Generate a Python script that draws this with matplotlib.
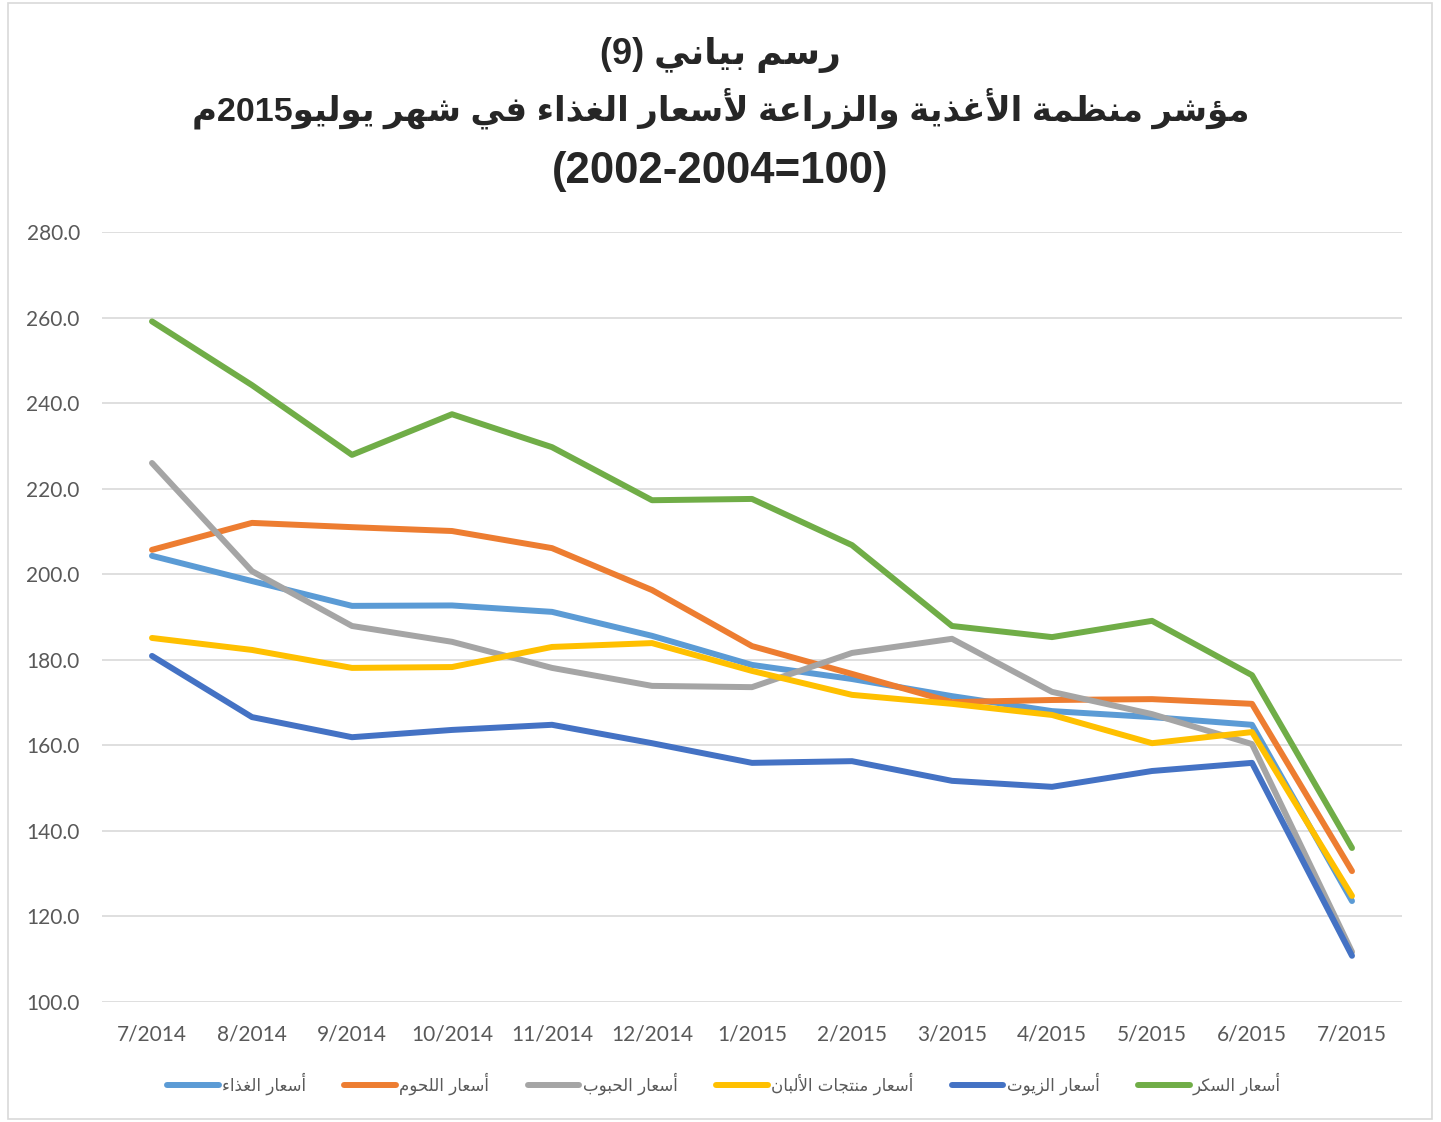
import matplotlib
matplotlib.use("Agg")
import matplotlib.pyplot as plt
from matplotlib.patches import Rectangle

# data
months = ["7/2014", "8/2014", "9/2014", "10/2014", "11/2014", "12/2014",
          "1/2015", "2/2015", "3/2015", "4/2015", "5/2015", "6/2015", "7/2015"]
food = [204.3, 198.4, 192.6, 192.7, 191.2, 185.6, 178.8, 175.5, 171.5, 168.0, 166.6, 164.8, 123.6]
meat = [205.7, 212.0, 211.0, 210.1, 206.1, 196.3, 183.2, 176.7, 170.1, 170.6, 170.8, 169.7, 130.6]
cereals = [226.0, 200.7, 187.9, 184.2, 178.1, 173.9, 173.6, 181.6, 184.9, 172.5, 167.3, 160.3, 111.7]
dairy = [185.1, 182.3, 178.1, 178.3, 183.0, 183.9, 177.4, 171.8, 169.7, 167.1, 160.5, 163.1, 124.8]
oils = [180.9, 166.6, 161.9, 163.6, 164.8, 160.5, 155.9, 156.3, 151.7, 150.3, 154.0, 155.9, 110.8]
sugar = [259.1, 244.2, 227.9, 237.4, 229.7, 217.3, 217.6, 206.8, 187.9, 185.3, 189.1, 176.4, 136.0]

series_names = ["أسعار الغذاء", "أسعار اللحوم", "أسعار الحبوب",
                "أسعار منتجات الألبان", "أسعار الزيوت", "أسعار السكر"]
colors = ["#5B9BD5", "#ED7D31", "#A5A5A5", "#FFC000", "#4472C4", "#70AD47"]

title1 = "رسم بياني (9)"
title2 = "مؤشر منظمة الأغذية والزراعة لأسعار الغذاء في شهر يوليو2015م"
title3 = "(2002-2004=100)"

# --- tiny arabic shaper (matplotlib draws no joined forms by itself) ---
DUAL = {'ئ': 0xFE89, 'ب': 0xFE8F, 'ت': 0xFE95, 'ث': 0xFE99, 'ج': 0xFE9D, 'ح': 0xFEA1,
        'خ': 0xFEA5, 'س': 0xFEB1, 'ش': 0xFEB5, 'ص': 0xFEB9, 'ض': 0xFEBD, 'ط': 0xFEC1,
        'ظ': 0xFEC5, 'ع': 0xFEC9, 'غ': 0xFECD, 'ف': 0xFED1, 'ق': 0xFED5, 'ك': 0xFED9,
        'ل': 0xFEDD, 'م': 0xFEE1, 'ن': 0xFEE5, 'ه': 0xFEE9, 'ي': 0xFEF1}
RIGHT = {'آ': 0xFE81, 'أ': 0xFE83, 'ؤ': 0xFE85, 'إ': 0xFE87, 'ا': 0xFE8D, 'ة': 0xFE93,
         'د': 0xFEA9, 'ذ': 0xFEAB, 'ر': 0xFEAD, 'ز': 0xFEAF, 'و': 0xFEED, 'ى': 0xFEEF}
LAM_ALEF = {'آ': 0xFEF5, 'أ': 0xFEF7, 'إ': 0xFEF9, 'ا': 0xFEFB}


def ar(text):
    units = []  # (base code or char, joining type)
    i = 0
    while i < len(text):
        c = text[i]
        if c == 'ل' and i + 1 < len(text) and text[i + 1] in LAM_ALEF:
            units.append((LAM_ALEF[text[i + 1]], 'R'))
            i += 2
            continue
        if c in DUAL:
            units.append((DUAL[c], 'D'))
        elif c in RIGHT:
            units.append((RIGHT[c], 'R'))
        elif c == 'ء':
            units.append((0xFE80, 'U'))
        else:
            units.append((c, 'X'))
        i += 1
    out = []
    for k, (code, jt) in enumerate(units):
        if jt == 'X':
            out.append(code)
            continue
        prev_ok = k > 0 and units[k - 1][1] == 'D' and jt in 'DR'
        next_ok = jt == 'D' and k + 1 < len(units) and units[k + 1][1] in 'DR'
        if prev_ok and next_ok:
            off = 3
        elif prev_ok:
            off = 1
        elif next_ok:
            off = 2
        else:
            off = 0
        out.append(chr(code + off))
    vis = out[::-1]
    # keep digit runs left to right, mirror brackets
    res, run = [], []
    for ch in vis:
        if ch.isdigit():
            run.append(ch)
        else:
            res.extend(run[::-1])
            run = []
            res.append({'(': ')', ')': '('}.get(ch, ch))
    res.extend(run[::-1])
    return "".join(res)


W, H = 1441, 1122
fig = plt.figure(figsize=(W / 100, H / 100), dpi=100)
fig.patches.append(Rectangle((8 / W, 3 / H), 1424 / W, 1116 / H, transform=fig.transFigure,
                             fill=False, edgecolor="#d9d9d9", linewidth=1.2))

tfont = ["Liberation Sans", "DejaVu Sans"]
fig.text(0.5, 1 - 55 / H, ar(title1), ha="center", va="center", fontsize=26,
         fontweight="bold", family=tfont, color="#262626")
fig.text(0.5, 1 - 108 / H, ar(title2), ha="center", va="center", fontsize=24.5,
         fontweight="bold", family=tfont, color="#262626")
fig.text(0.5, 1 - 172 / H, title3, ha="center", va="center", fontsize=31.5,
         fontweight="bold", family=tfont, color="#262626")

ax = fig.add_axes([102 / W, 1 - 1002 / H, 1300 / W, 770 / H])
x = list(range(len(months)))
for vals, name, col in zip([food, meat, cereals, dairy, oils, sugar], series_names, colors):
    ax.plot(x, vals, color=col, linewidth=4.3, label=ar(name),
            solid_capstyle="round", solid_joinstyle="round")

ax.set_xlim(-0.5, len(months) - 0.5)
ax.set_ylim(100, 280)
ax.set_yticks(range(100, 281, 20))
ax.set_yticklabels([f"{v:.1f}" for v in range(100, 281, 20)])
ax.set_xticks(x)
ax.set_xticklabels(months)
ax.grid(axis="y", color="#d9d9d9", linewidth=1.2)
ax.set_axisbelow(True)
for s in ax.spines.values():
    s.set_visible(False)
ax.tick_params(length=0, labelsize=15, labelcolor="#595959", pad=16)
for lab in ax.get_xticklabels() + ax.get_yticklabels():
    lab.set_family("Lato")

leg = fig.legend(loc="center", bbox_to_anchor=(724 / W, 1 - 1084 / H), ncol=6,
                 frameon=False, handlelength=3.1, handletextpad=0.2, columnspacing=2.3,
                 prop={"family": ["DejaVu Sans"], "size": 12})
for t in leg.get_texts():
    t.set_color("#595959")

fig.savefig("out.png", dpi=100)
